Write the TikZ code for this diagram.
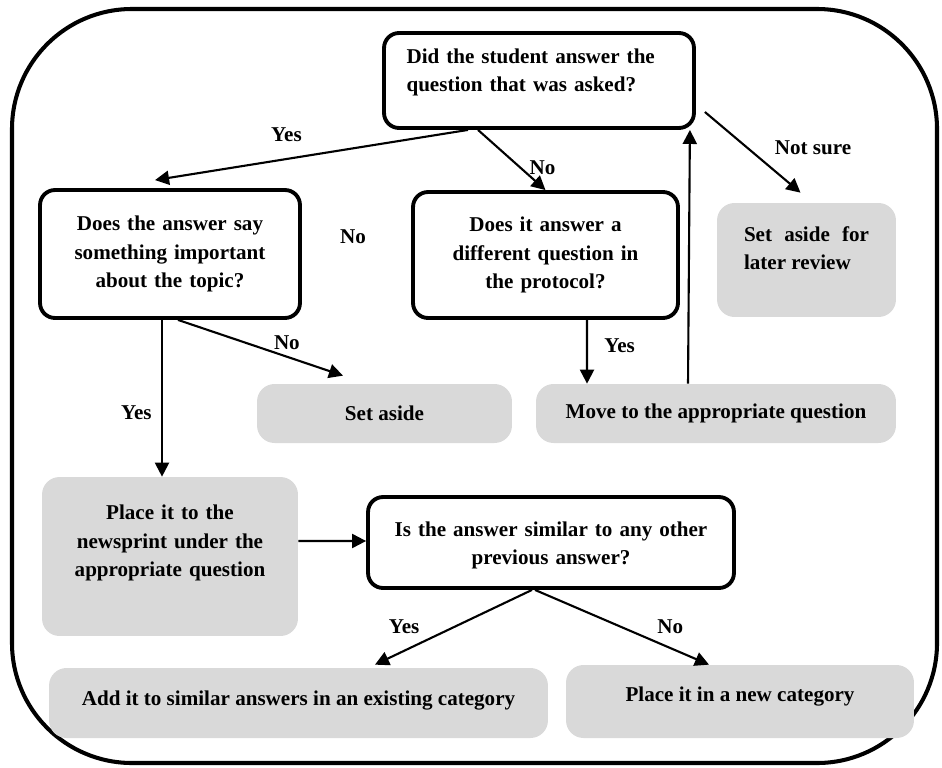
\documentclass[tikz,border=0pt]{standalone}
\usepackage{fontspec}
\setmainfont{Liberation Serif}
\usetikzlibrary{arrows.meta}
\definecolor{boxgray}{HTML}{D9D9D9}

\begin{document}
\begin{tikzpicture}[x=0.02cm, y=-0.02cm,
    every node/.style={font=\bfseries\fontsize{12}{16}\selectfont},
    question/.style={draw, line width=2.2pt, rounded corners=0.3cm, align=center},
    action/.style={fill=boxgray, rounded corners=0.35cm, align=center},
    arr/.style={-{Triangle[length=8pt,width=8pt]}, line width=1.2pt}]
    \useasboundingbox (0,0) rectangle (942,767);
    \draw[line width=2.3pt, rounded corners=2.4cm] (12,9) rectangle (937,763);

    \node[question, minimum width=6.2cm, minimum height=1.9cm, text width=5.3cm, align=left, text depth=28pt] (q1) at (539,80.5) {Did the student answer the\\question that was asked?};
    \node[question, minimum width=5.2cm, minimum height=2.56cm, text width=4.8cm] (q2) at (170,254) {Does the answer say\\something important\\about the topic?};
    \node[question, minimum width=5.3cm, minimum height=2.52cm, text width=4.8cm] (q3) at (545.5,255) {Does it answer a\\different question in\\the protocol?};
    \node[action, minimum width=3.58cm, minimum height=2.28cm, text width=2.5cm, align=justify, text depth=30pt] (later) at (806.5,260) {Set aside for later review};
    \node[action, minimum width=5.1cm, minimum height=1.18cm] (setaside) at (384.5,413.5) {Set aside};
    \node[action, minimum width=7.2cm, minimum height=1.18cm] (move) at (716,413.5) {Move to the appropriate question};
    \node[action, minimum width=5.12cm, minimum height=3.18cm, text width=4.6cm, text depth=50pt] (place) at (170,556.5) {Place it to the\\newsprint under the\\appropriate question};
    \node[question, minimum width=7.32cm, minimum height=1.82cm, text width=6.8cm, text depth=15pt] (q4) at (551,542.5) {Is the answer similar to any other\\previous answer?};
    \node[action, minimum width=9.98cm, minimum height=1.4cm, text depth=6pt] (existing) at (298.5,703) {Add it to similar answers in an existing category};
    \node[action, minimum width=6.96cm, minimum height=1.46cm, text depth=8pt] (newcat) at (740,701.5) {Place it in a new category};
    \node (nolone) at (353,237) {No};

    \draw[arr] ([xshift=-1.42cm]q1.south) -- ([xshift=-0.3cm,yshift=0.16cm]q2.north) node[pos=0.58, yshift=0.48cm] {Yes};
    \draw[arr] ([xshift=-1.22cm]q1.south) -- (q3.north) node[pos=0.63, xshift=0.44cm] {No};
    \draw[arr] ([xshift=0.18cm,yshift=-0.63cm]q1.east) -- ([xshift=-0.12cm,yshift=0.2cm]later.north) node[pos=0.44, xshift=1.32cm] {Not sure};
    \draw[arr] ([xshift=-0.56cm]move.north) -- ([xshift=-0.12cm]q1.south east);
    \draw[arr] ([xshift=-0.16cm]q2.south) -- ([xshift=-0.16cm]place.north) node[pos=0.59, left=2pt] {Yes};
    \draw[arr] ([xshift=0.16cm]q2.south) -- ([xshift=-0.83cm,yshift=0.16cm]setaside.north) node[pos=0.66, above] {No};
    \draw[arr] ([xshift=0.83cm]q3.south) -- ([xshift=-2.58cm]move.north) node[pos=0.4, right=6pt] {Yes};
    \draw[arr] ([yshift=0.31cm]place.east) -- ([yshift=0.03cm]q4.west);
    \draw[arr] ([xshift=-0.38cm]q4.south) -- ([xshift=1.53cm,yshift=0.06cm]existing.north) node[pos=0.49, xshift=-1.02cm] {Yes};
    \draw[arr] ([xshift=-0.32cm]q4.south) -- ([xshift=-0.62cm]newcat.north) node[pos=0.49, xshift=1.0cm] {No};
\end{tikzpicture}
\end{document}
